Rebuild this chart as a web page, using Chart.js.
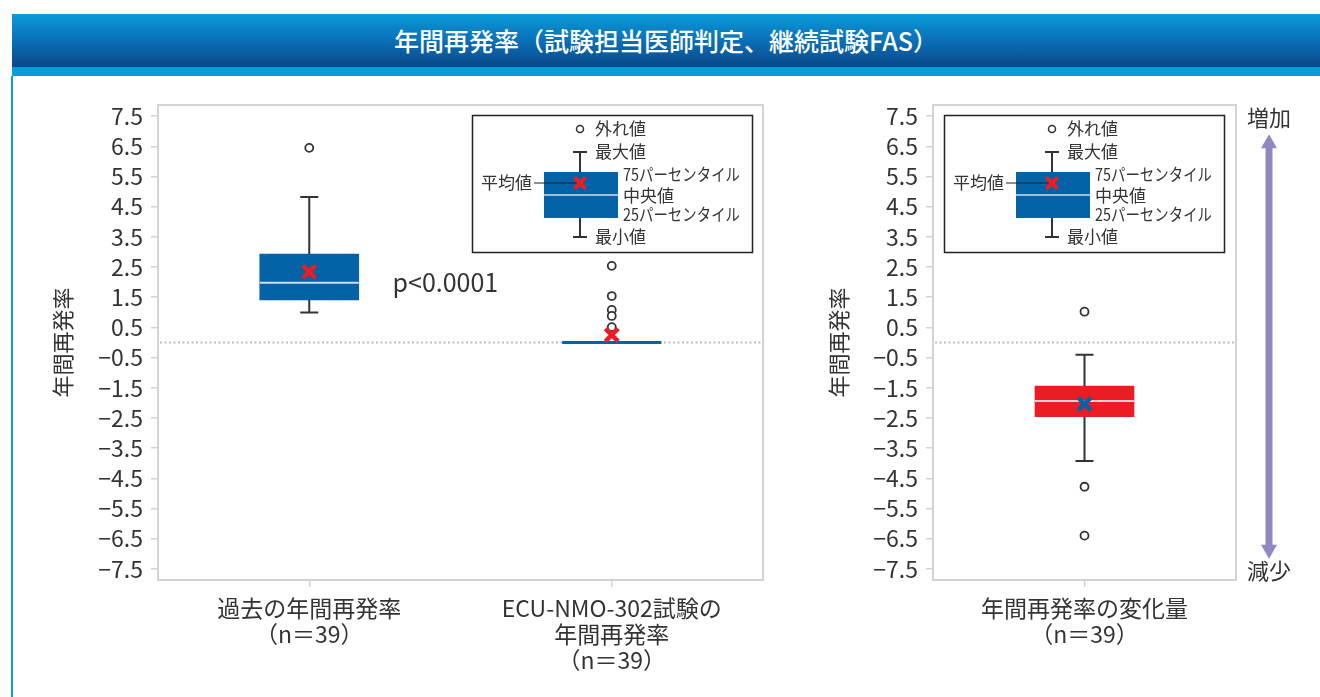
<!DOCTYPE html>
<html lang="ja">
<head>
<meta charset="utf-8">
<title>年間再発率</title>
<script src="https://cdn.jsdelivr.net/npm/chart.js@4.4.1/dist/chart.umd.min.js"></script>
<style>
  body { margin: 0; background: #fff; width: 1320px; height: 697px; overflow: hidden; position: relative;
         font-family: "Noto Sans CJK JP", sans-serif; }
  #head { position: absolute; left: 12px; top: 14px; width: 1308px; height: 53px;
          background: linear-gradient(to bottom, #0a9ad9 0%, #0a70b7 50%, #0a4889 100%);
          color: #fff; font-size: 25px; font-weight: 500; text-align: center; line-height: 53px; }
  #stripe { position: absolute; left: 12px; top: 67px; width: 1308px; height: 9px; background: #0a9bd9; }
  #frame { position: absolute; left: 11px; top: 76px; width: 2px; height: 621px; background: #0a9bd9; }
  #c1 { position: absolute; left: 0; top: 90px; }
  #c2 { position: absolute; left: 800px; top: 90px; }
</style>
</head>
<body>
<div id="head">年間再発率（試験担当医師判定、継続試験FAS）</div>
<div id="stripe"></div>
<div id="frame"></div>
<canvas id="c1" width="800" height="607"></canvas>
<canvas id="c2" width="520" height="607"></canvas>
<script>
// left panel: past ARR vs ARR in ECU-NMO-302
const categories = ['過去の年間再発率', 'ECU-NMO-302試験の年間再発率'];
const categoryLines = [['過去の年間再発率', '（n＝39）'], ['ECU-NMO-302試験の', '年間再発率', '（n＝39）']];
const boxLow = [1.41, 0];
const boxHigh = [2.93, 0];
const medians = [1.98, 0];
const whiskerLow = [0.99, 0];
const whiskerHigh = [4.82, 0];
const means = [2.34, 0.25];
const outliers = [[6.45], [2.54, 1.54, 1.08, 0.88, 0.51]];

// right panel: change in ARR
const changeCategories = ['年間再発率の変化量'];
const changeLines = [['年間再発率の変化量', '（n＝39）']];
const changeBoxLow = [-2.46];
const changeBoxHigh = [-1.44];
const changeMedians = [-1.94];
const changeWhiskerLow = [-3.93];
const changeWhiskerHigh = [-0.41];
const changeMeans = [-2.04];
const changeOutliers = [[1.02, -4.78, -6.40]];

const yTickValues = [-7.5, -6.5, -5.5, -4.5, -3.5, -2.5, -1.5, -0.5, 0.5, 1.5, 2.5, 3.5, 4.5, 5.5, 6.5, 7.5];
const yMin = -7.87;
const yMax = 7.87;
const yTitle = '年間再発率';
const pValueText = 'p<0.0001';
const arrowLabels = ['増加', '減少'];

const BLUE = '#0462a7';
const RED = '#ec1c25';
const FONT = '"Noto Sans CJK JP", sans-serif';
Chart.defaults.font.family = FONT;
Chart.defaults.color = '#333';

function fmt(v) {
  return v < 0 ? '\u2212' + Math.abs(v).toFixed(1) : v.toFixed(1);
}

function drawKey(ctx, kx, ky) {
  ctx.save();
  ctx.strokeStyle = '#222';
  ctx.lineWidth = 1.5;
  ctx.strokeRect(kx + 0.5, ky + 0.5, 280, 137);
  const cx = kx + 108;
  ctx.beginPath();
  ctx.arc(cx, ky + 14, 3.5, 0, Math.PI * 2);
  ctx.fillStyle = '#fff';
  ctx.fill();
  ctx.strokeStyle = '#333';
  ctx.lineWidth = 1.5;
  ctx.stroke();

  ctx.lineWidth = 2;
  ctx.beginPath();
  ctx.moveTo(cx - 7, ky + 37); ctx.lineTo(cx + 7, ky + 37);
  ctx.moveTo(cx, ky + 37); ctx.lineTo(cx, ky + 57);
  ctx.moveTo(cx, ky + 103); ctx.lineTo(cx, ky + 122);
  ctx.moveTo(cx - 7, ky + 122); ctx.lineTo(cx + 7, ky + 122);
  ctx.stroke();

  ctx.fillStyle = BLUE;
  ctx.fillRect(kx + 72, ky + 57, 74, 46);
  ctx.strokeStyle = '#cfe0f0';
  ctx.lineWidth = 1.5;
  ctx.beginPath();
  ctx.moveTo(kx + 72, ky + 80); ctx.lineTo(kx + 146, ky + 80);
  ctx.stroke();

  ctx.strokeStyle = '#222';
  ctx.lineWidth = 1.2;
  ctx.beginPath();
  ctx.moveTo(kx + 62, ky + 68); ctx.lineTo(cx, ky + 68);
  ctx.stroke();

  ctx.strokeStyle = RED;
  ctx.lineWidth = 4;
  ctx.lineCap = 'round';
  ctx.beginPath();
  ctx.moveTo(cx - 4.5, ky + 63.5); ctx.lineTo(cx + 4.5, ky + 72.5);
  ctx.moveTo(cx + 4.5, ky + 63.5); ctx.lineTo(cx - 4.5, ky + 72.5);
  ctx.stroke();

  ctx.fillStyle = '#333';
  ctx.font = '17px ' + FONT;
  ctx.textBaseline = 'middle';
  ctx.textAlign = 'left';
  ctx.fillText('外れ値', kx + 123, ky + 14);
  ctx.fillText('最大値', kx + 123, ky + 37);
  ctx.fillText('平均値', kx + 9, ky + 68);
  ctx.fillText('75パーセンタイル', kx + 151, ky + 60, 117);
  ctx.fillText('中央値', kx + 151, ky + 81);
  ctx.fillText('25パーセンタイル', kx + 151, ky + 100, 117);
  ctx.fillText('最小値', kx + 123, ky + 122);
  ctx.restore();
}

function boxParts(s) {
  return {
    id: 'boxparts',
    beforeDatasetsDraw(chart) {
      const {ctx, chartArea: ca, scales: {y}} = chart;
      ctx.save();
      ctx.strokeStyle = '#d3d3d3';
      ctx.lineWidth = 2;
      ctx.strokeRect(ca.left, ca.top, ca.right - ca.left, ca.bottom - ca.top);
      const y0 = y.getPixelForValue(0);
      ctx.strokeStyle = '#bdbdbd';
      ctx.setLineDash([2, 2.5]);
      ctx.beginPath();
      ctx.moveTo(ca.left + 2, y0);
      ctx.lineTo(ca.right - 2, y0);
      ctx.stroke();
      ctx.restore();
    },
    afterDatasetDraw(chart, args) {
      if (args.index !== 0) return;
      const {ctx, scales: {y}} = chart;
      const bars = chart.getDatasetMeta(0).data;
      ctx.save();
      bars.forEach((bar, i) => {
        const x = bar.x, half = bar.width / 2;
        if (s.low[i] === s.high[i]) {
          ctx.strokeStyle = s.boxColor;
          ctx.lineWidth = 3;
          ctx.beginPath();
          ctx.moveTo(x - half, y.getPixelForValue(s.med[i]));
          ctx.lineTo(x + half, y.getPixelForValue(s.med[i]));
          ctx.stroke();
          return;
        }
        ctx.strokeStyle = '#333';
        ctx.lineWidth = 2;
        ctx.beginPath();
        ctx.moveTo(x, y.getPixelForValue(s.high[i]));
        ctx.lineTo(x, y.getPixelForValue(s.wh[i]));
        ctx.moveTo(x - 9, y.getPixelForValue(s.wh[i]));
        ctx.lineTo(x + 9, y.getPixelForValue(s.wh[i]));
        ctx.moveTo(x, y.getPixelForValue(s.low[i]));
        ctx.lineTo(x, y.getPixelForValue(s.wl[i]));
        ctx.moveTo(x - 9, y.getPixelForValue(s.wl[i]));
        ctx.lineTo(x + 9, y.getPixelForValue(s.wl[i]));
        ctx.stroke();
        ctx.strokeStyle = s.medColor;
        ctx.lineWidth = 2;
        ctx.beginPath();
        ctx.moveTo(x - half, y.getPixelForValue(s.med[i]));
        ctx.lineTo(x + half, y.getPixelForValue(s.med[i]));
        ctx.stroke();
      });
      ctx.restore();
    },
    afterDraw(chart) {
      if (s.extra) s.extra(chart);
    }
  };
}

function makeChart(id, s) {
  const outlierPts = [];
  s.outl.forEach((list, i) => list.forEach(v => outlierPts.push({x: s.cats[i], y: v})));
  return new Chart(document.getElementById(id), {
    type: 'bar',
    data: {
      labels: s.cats,
      datasets: [
        {
          data: s.low.map((q1, i) => [q1, s.high[i]]),
          backgroundColor: s.boxColor,
          borderWidth: 0,
          barThickness: 99,
          order: 3
        },
        {
          type: 'line',
          data: outlierPts,
          showLine: false,
          pointStyle: 'circle',
          pointRadius: 4,
          pointBorderWidth: 1.8,
          pointBorderColor: '#333',
          pointBackgroundColor: '#fff',
          clip: false,
          order: 2
        },
        {
          type: 'line',
          data: s.mean.map((v, i) => ({x: s.cats[i], y: v})),
          showLine: false,
          pointStyle: 'crossRot',
          pointRadius: 9,
          pointBorderWidth: 4.5,
          pointBorderColor: s.meanColor,
          clip: false,
          order: 1
        }
      ]
    },
    options: {
      responsive: false,
      animation: false,
      events: [],
      layout: {padding: {top: 15, right: s.padRight, left: 0, bottom: 0}},
      plugins: {legend: {display: false}, tooltip: {enabled: false}},
      scales: {
        x: {
          grid: {offset: false, drawOnChartArea: false, tickLength: 7, color: '#d3d3d3', lineWidth: 1.5},
          border: {display: false},
          ticks: {
            font: {size: 23, lineHeight: 1.11},
            color: '#333',
            padding: 9,
            maxRotation: 0,
            callback: (v, i) => s.lines[i]
          },
          afterFit: a => { a.height = 117; a.paddingLeft = 0; a.paddingRight = 0; }
        },
        y: {
          min: yMin,
          max: yMax,
          grid: {drawOnChartArea: false, tickLength: 7, color: '#d3d3d3', lineWidth: 1.5},
          border: {display: false},
          afterBuildTicks: a => { a.ticks = yTickValues.map(v => ({value: v})); },
          ticks: {font: {size: 23}, color: '#333', padding: 8, callback: v => fmt(v)},
          title: {display: true, text: yTitle, font: {size: 22}, color: '#333', padding: {top: s.titlePad, bottom: 0}},
          afterFit: a => { a.width = s.axisWidth; a.paddingTop = 0; a.paddingBottom = 0; }
        }
      }
    },
    plugins: [boxParts(s)]
  });
}

makeChart('c1', {
  cats: categories, lines: categoryLines,
  low: boxLow, high: boxHigh, med: medians, wl: whiskerLow, wh: whiskerHigh,
  mean: means, outl: outliers,
  boxColor: BLUE, medColor: '#cfe0f0', meanColor: RED,
  axisWidth: 158, padRight: 37, titlePad: 49,
  extra(chart) {
    const {ctx, chartArea: ca, scales: {x, y}} = chart;
    drawKey(ctx, ca.right - 291, ca.top + 10);
    ctx.save();
    ctx.fillStyle = '#333';
    ctx.font = '25px ' + FONT;
    ctx.textAlign = 'left';
    ctx.textBaseline = 'middle';
    const mid = (x.getPixelForValue(0) + x.getPixelForValue(1)) / 2;
    ctx.fillText(pValueText, mid - 68, y.getPixelForValue(2.0), 116);
    ctx.restore();
  }
});

makeChart('c2', {
  cats: changeCategories, lines: changeLines,
  low: changeBoxLow, high: changeBoxHigh, med: changeMedians, wl: changeWhiskerLow, wh: changeWhiskerHigh,
  mean: changeMeans, outl: changeOutliers,
  boxColor: RED, medColor: '#f8d0d0', meanColor: BLUE,
  axisWidth: 133, padRight: 84, titlePad: 25,
  extra(chart) {
    const {ctx, chartArea: ca, scales: {y}} = chart;
    drawKey(ctx, ca.right - 292, ca.top + 10);
    const ax = ca.right + 33;
    const top = y.getPixelForValue(7.5) + 18;
    const bot = y.getPixelForValue(-7.5) - 10;
    ctx.save();
    ctx.fillStyle = '#9287c1';
    ctx.fillRect(ax - 3.5, top + 12, 7, bot - top - 24);
    ctx.beginPath();
    ctx.moveTo(ax, top); ctx.lineTo(ax + 8, top + 14); ctx.lineTo(ax - 8, top + 14); ctx.closePath();
    ctx.moveTo(ax, bot); ctx.lineTo(ax + 8, bot - 14); ctx.lineTo(ax - 8, bot - 14); ctx.closePath();
    ctx.fill();
    ctx.fillStyle = '#333';
    ctx.font = '22px ' + FONT;
    ctx.textAlign = 'center';
    ctx.textBaseline = 'middle';
    ctx.fillText(arrowLabels[0], ax, y.getPixelForValue(7.5) + 1);
    ctx.fillText(arrowLabels[1], ax, y.getPixelForValue(-7.5) + 2);
    ctx.restore();
  }
});
</script>
</body>
</html>
